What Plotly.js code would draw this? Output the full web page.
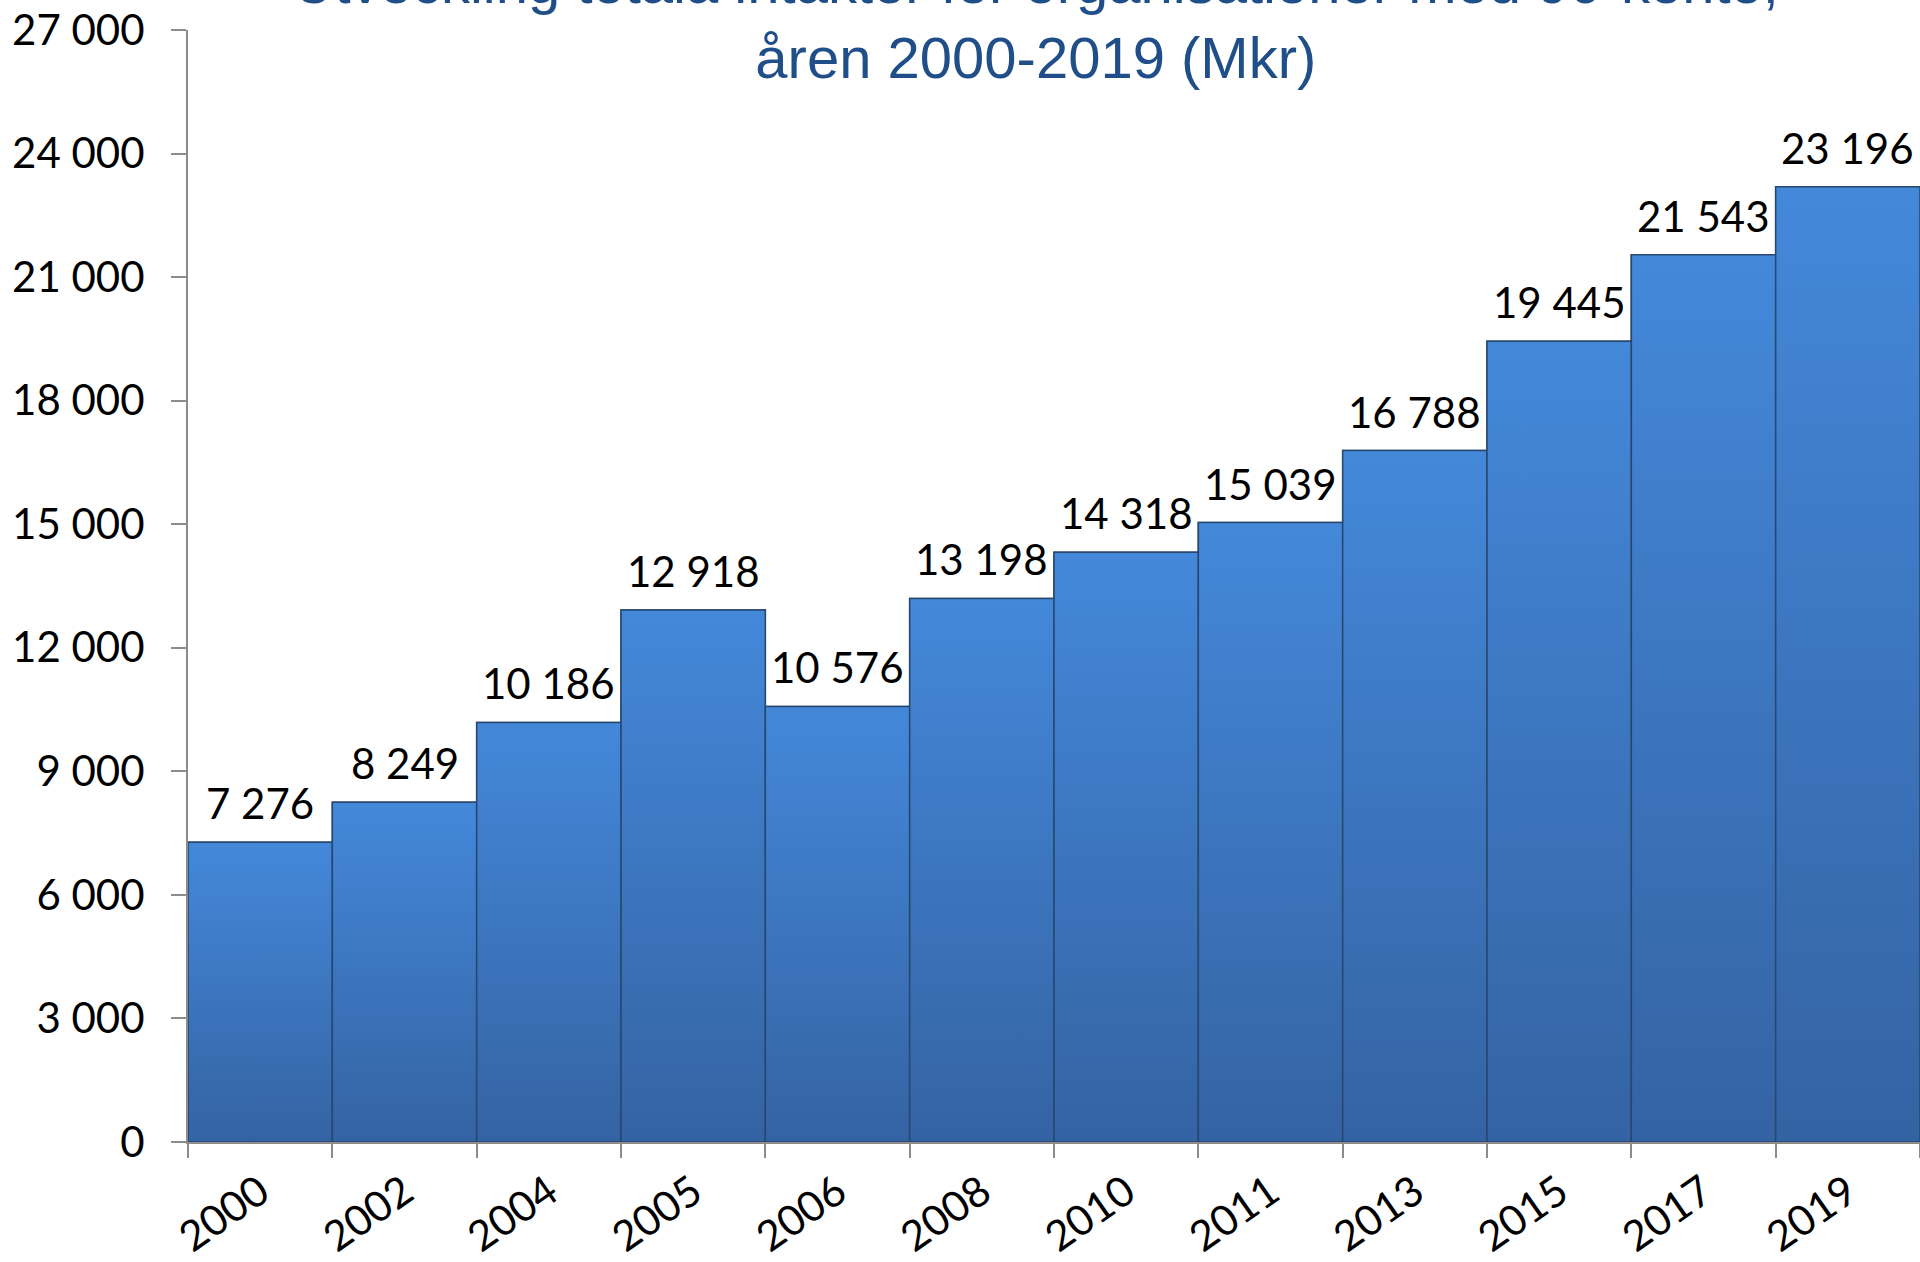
<!DOCTYPE html>
<html>
<head>
<meta charset="utf-8">
<script src="https://cdn.plot.ly/plotly-3.0.1.min.js"></script>
<style>
  html, body { margin: 0; padding: 0; background: #ffffff; }
  #chart { width: 1920px; height: 1262px; }
</style>
</head>
<body>
<div id="chart"></div>
<script>
// Data
const years = ['2000', '2002', '2004', '2005', '2006', '2008', '2010', '2011', '2013', '2015', '2017', '2019'];
const intakter = [7276, 8249, 10186, 12918, 10576, 13198, 14318, 15039, 16788, 19445, 21543, 23196];
const yTicks = [0, 3000, 6000, 9000, 12000, 15000, 18000, 21000, 24000, 27000];
const titleText = 'Utveckling totala intäkter för organisationer med 90-konto,<br>åren 2000-2019 (Mkr)';

const labelFont = { family: 'Lato, "Open Sans", sans-serif', size: 42, color: '#000000' };
const barDark = '#3463a3';
const barLight = '#4488da';
const barEdge = '#27476f';

function fmtSpace(v) {
  return String(v).replace(/\B(?=(\d{3})+(?!\d))/g, ' ');
}

// Base bar trace on the category axis
const traces = [{
  type: 'bar',
  x: years,
  y: intakter,
  marker: { color: '#3b75c1', line: { color: barEdge, width: 1.5 } },
  hoverinfo: 'x+y'
}];

// Vertical gradient fill for each bar, on an overlaying linear axis aligned with the categories
years.forEach(function (yr, i) {
  const v = intakter[i];
  traces.push({
    type: 'scatter',
    xaxis: 'x2',
    yaxis: 'y',
    x: [i - 0.5, i + 0.5, i + 0.5, i - 0.5, i - 0.5],
    y: [0, 0, v, v, 0],
    mode: 'lines',
    fill: 'toself',
    fillgradient: { type: 'vertical', colorscale: [[0, barDark], [1, barLight]] },
    line: { color: barEdge, width: 1.5 },
    hoverinfo: 'skip',
    showlegend: false
  });
});

// Data labels above bars
const annotations = years.map(function (yr, i) {
  return {
    xref: 'x', yref: 'y',
    x: i, y: intakter[i],
    text: fmtSpace(intakter[i]),
    showarrow: false,
    xanchor: 'center',
    yanchor: 'bottom',
    yshift: 12,
    font: labelFont
  };
});

const layout = {
  width: 1920,
  height: 1262,
  paper_bgcolor: '#ffffff',
  plot_bgcolor: '#ffffff',
  separators: ', ',
  margin: { l: 188, r: 0, t: 30, b: 120, pad: 0 },
  bargap: 0,
  showlegend: false,
  title: {
    text: titleText,
    font: { family: '"Liberation Sans", Arial, sans-serif', size: 58, color: '#1f4e89' },
    xref: 'container',
    x: 0.5395,
    xanchor: 'center',
    yref: 'container',
    y: 0.998,
    yanchor: 'bottom'
  },
  xaxis: {
    type: 'category',
    range: [-0.5, 11.5],
    tickangle: -35,
    tickson: 'boundaries',
    ticks: 'outside',
    ticklen: 14,
    tickwidth: 2,
    tickcolor: '#8c8c8c',
    showline: true,
    linecolor: '#8c8c8c',
    linewidth: 2,
    showgrid: false,
    tickfont: labelFont,
    ticklabelstandoff: 7,
    automargin: false
  },
  xaxis2: {
    overlaying: 'x',
    range: [-0.5, 11.5],
    visible: false,
    fixedrange: true
  },
  yaxis: {
    range: [0, 27000],
    tickvals: yTicks,
    tickformat: ',d',
    ticks: 'outside',
    ticklen: 15,
    tickwidth: 2,
    tickcolor: '#8c8c8c',
    showline: true,
    linecolor: '#8c8c8c',
    linewidth: 2,
    showgrid: false,
    zeroline: false,
    tickfont: labelFont,
    ticklabelstandoff: 18,
    automargin: false
  },
  annotations: annotations
};

Plotly.newPlot('chart', traces, layout, { displayModeBar: false, staticPlot: true });
</script>
</body>
</html>
